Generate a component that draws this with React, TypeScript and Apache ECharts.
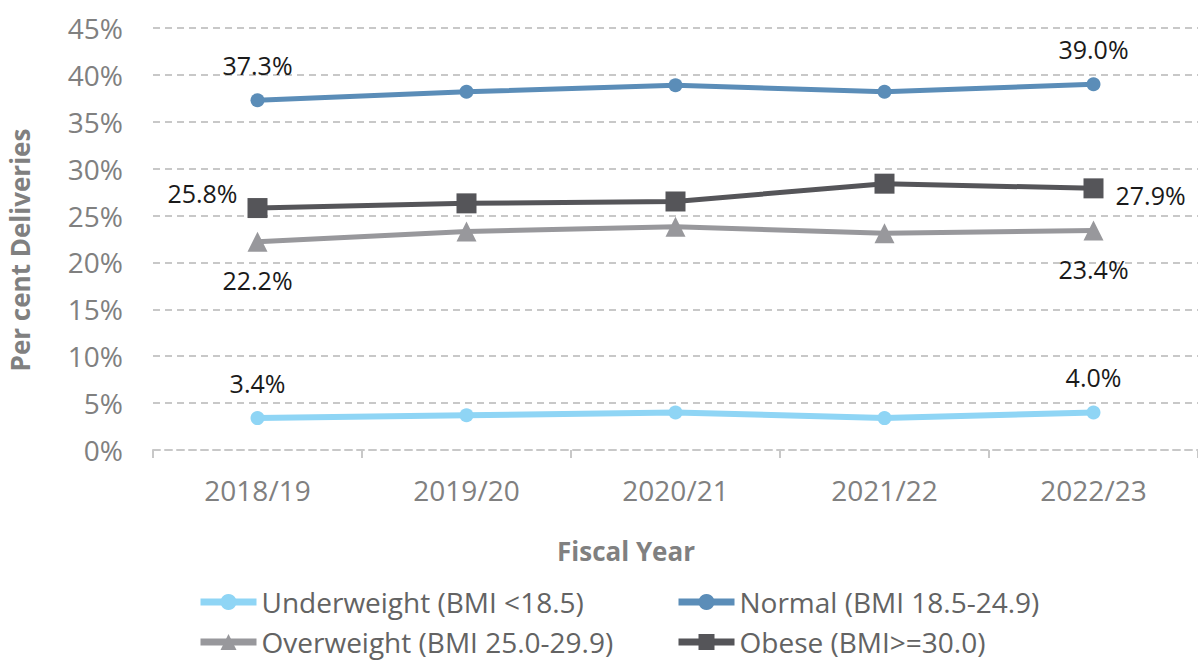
import React, { useEffect, useRef } from "react";
import * as echarts from "echarts";

const categories = ["2018/19", "2019/20", "2020/21", "2021/22", "2022/23"];
const underweight = [3.4, 3.7, 4.0, 3.4, 4.0];
const normal = [37.3, 38.2, 38.9, 38.2, 39.0];
const overweight = [22.2, 23.3, 23.8, 23.1, 23.4];
const obese = [25.8, 26.3, 26.5, 28.4, 27.9];
const seriesNames = [
  "Underweight (BMI <18.5)",
  "Normal (BMI 18.5-24.9)",
  "Overweight (BMI 25.0-29.9)",
  "Obese (BMI>=30.0)",
];
const yTicks = { min: 0, max: 45, interval: 5 };

const FONT = "'Open Sans', 'Noto Sans', sans-serif";
const LABEL_COLOR = "#1a1a1a";

function withEndLabels(values: number[], first: any, last: any) {
  return values.map((v, i) => {
    if (i === 0) return { value: v, label: { show: true, ...first } };
    if (i === values.length - 1) return { value: v, label: { show: true, ...last } };
    return { value: v };
  });
}

export default function App() {
  const ref = useRef<HTMLDivElement>(null);
  useEffect(() => {
    document.body.style.margin = "0";
    const chart = echarts.init(ref.current!, null, { renderer: "svg" });
    const labelBase = {
      color: LABEL_COLOR,
      fontSize: 25,
      fontFamily: FONT,
      formatter: (p: any) => p.value.toFixed(1) + "%",
    };
    const legendText = { color: "#636363", fontSize: 28, fontFamily: FONT };
    const legendCommon = {
      itemWidth: 56,
      itemHeight: 20,
      itemGap: 0,
      textStyle: legendText,
      lineStyle: { width: 7 },
      padding: 0,
      selectedMode: false,
    };
    chart.setOption({
      animation: false,
      backgroundColor: "#ffffff",
      textStyle: { fontFamily: FONT },
      grid: { left: 153, right: 0, top: 28, bottom: 212, outerBoundsMode: "none" },
      legend: [
        { ...legendCommon, data: [seriesNames[0]], left: 197, top: 588 },
        { ...legendCommon, data: [seriesNames[1]], left: 675, top: 588 },
        { ...legendCommon, data: [seriesNames[2]], left: 197, top: 628 },
        { ...legendCommon, data: [seriesNames[3]], left: 675, top: 628 },
      ],
      graphic: [
        {
          type: "text",
          x: 626,
          y: 551,
          style: {
            text: "Fiscal Year",
            fill: "#808080",
            font: `bold 26px ${FONT}`,
            textAlign: "center",
            textVerticalAlign: "middle",
          },
        },
        {
          type: "text",
          x: 20,
          y: 250,
          rotation: Math.PI / 2,
          style: {
            text: "Per cent Deliveries",
            fill: "#808080",
            font: `bold 26px ${FONT}`,
            textAlign: "center",
            textVerticalAlign: "middle",
          },
        },
      ],
      xAxis: {
        type: "category",
        data: categories,
        boundaryGap: true,
        axisLine: { show: true, lineStyle: { color: "#c8c8c8", width: 2, type: [7, 5] } },
        axisTick: { show: true, length: 8, lineStyle: { color: "#c8c8c8", width: 2 } },
        axisLabel: { color: "#808080", fontSize: 28, fontFamily: FONT, margin: 26 },
        splitLine: { show: false },
      },
      yAxis: {
        type: "value",
        min: yTicks.min,
        max: yTicks.max,
        interval: yTicks.interval,
        axisLine: { show: false },
        axisTick: { show: false },
        axisLabel: {
          color: "#808080",
          fontSize: 28,
          fontFamily: FONT,
          margin: 30,
          formatter: "{value}%",
        },
        splitLine: { show: true, lineStyle: { color: "#c8c8c8", width: 2, type: [7, 5] } },
      },
      series: [
        {
          name: seriesNames[0],
          type: "line",
          data: withEndLabels(
            underweight,
            { ...labelBase, position: "top", distance: 16 },
            { ...labelBase, position: "top", distance: 16 }
          ),
          symbol: "circle",
          symbolSize: 14,
          color: "#8fd5f5",
          lineStyle: { width: 6, color: "#8fd5f5" },
          z: 2,
        },
        {
          name: seriesNames[1],
          type: "line",
          data: withEndLabels(
            normal,
            { ...labelBase, position: "top", distance: 16 },
            { ...labelBase, position: "top", distance: 16 }
          ),
          symbol: "circle",
          symbolSize: 14,
          color: "#5b8db8",
          lineStyle: { width: 5, color: "#5b8db8" },
          z: 3,
        },
        {
          name: seriesNames[2],
          type: "line",
          data: withEndLabels(
            overweight,
            { ...labelBase, position: "bottom", distance: 16 },
            { ...labelBase, position: "bottom", distance: 16 }
          ),
          symbol: "triangle",
          symbolSize: 20,
          color: "#98989c",
          lineStyle: { width: 5, color: "#98989c" },
          z: 4,
        },
        {
          name: seriesNames[3],
          type: "line",
          data: withEndLabels(
            obese,
            { ...labelBase, position: "left", distance: 10, offset: [0, -15] },
            { ...labelBase, position: "right", distance: 12, offset: [0, 7] }
          ),
          symbol: "rect",
          symbolSize: 20,
          color: "#555559",
          lineStyle: { width: 5, color: "#555559" },
          z: 5,
        },
      ],
    });
    return () => chart.dispose();
  }, []);
  return (
    <div
      ref={ref}
      style={{ position: "absolute", left: 0, top: 0, width: 1198, height: 662 }}
    />
  );
}
